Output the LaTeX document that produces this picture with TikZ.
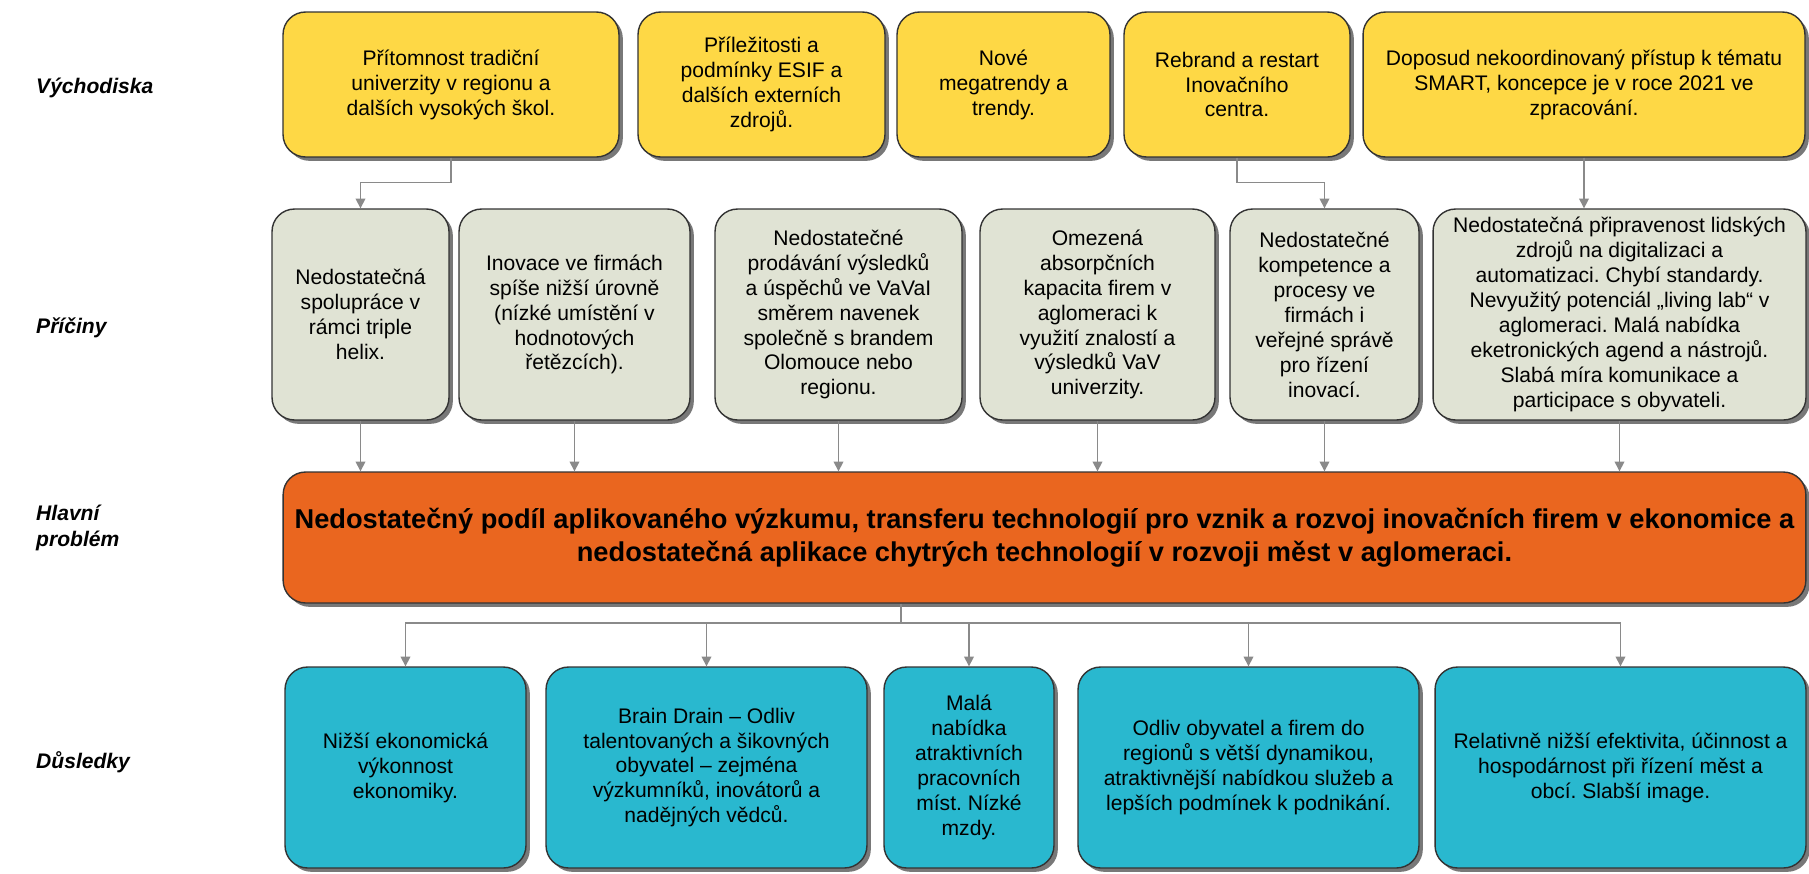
\documentclass[tikz,border=0pt]{standalone}
\usepackage{fontspec}
\setmainfont{Liberation Sans}
\usetikzlibrary{arrows.meta,shadows}
\frenchspacing

\definecolor{zluta}{HTML}{FED845}
\definecolor{seda}{HTML}{E0E3D4}
\definecolor{oranzova}{HTML}{EA661F}
\definecolor{modra}{HTML}{29B8CF}
\definecolor{cara}{HTML}{8A8A8A}

\begin{document}
\begin{tikzpicture}[x=0.02cm, y=-0.02cm,
    box/.style={draw=black!80, line width=0.8pt, rounded corners=0.45cm, align=center,
        inner sep=2pt, font=\fontsize{12}{14.2}\selectfont,
        drop shadow={shadow xshift=2.2pt, shadow yshift=-2.2pt, fill=black!70, opacity=0.75}},
    vychodisko/.style={box, fill=zluta, minimum height=2.9cm},
    pricina/.style={box, fill=seda, minimum height=4.22cm},
    problem/.style={box, fill=oranzova, minimum height=2.62cm,
        font=\bfseries\fontsize{15.5}{18.5}\selectfont},
    dusledek/.style={box, fill=modra, minimum height=4.02cm},
    popisek/.style={anchor=west, align=left, font=\bfseries\itshape\fontsize{12}{14.4}\selectfont},
    spoj/.style={draw=cara, line width=0.8pt, -{Triangle[width=5.5pt,length=5.5pt]}}]

    % 定义参数
    % x=0.02cm, y=-0.02cm: 1 单位 = 参考图的 1 像素 (y 向下)
    % 画布: 1809 x 873 像素
    \useasboundingbox (0,0) rectangle (1809,873);
    \fill[white] (0,0) rectangle (1809,873);

    % 左侧行标题
    \node[popisek] (lblvych) at (30,88) {Východiska};
    \node[popisek] (lblpric) at (30,328) {Příčiny};
    \node[popisek] (lblprob) at (30,528) {Hlavní\\problém};
    \node[popisek] (lbldus) at (30,762) {Důsledky};

    % 第一行: 黄色
    \node[vychodisko, minimum width=6.72cm] (vych1) at (451,84.5)
        {Přítomnost tradiční\\univerzity v regionu a\\dalších vysokých škol.};
    \node[vychodisko, minimum width=4.94cm] (vych2) at (761.5,84.5)
        {Příležitosti a\\podmínky ESIF a\\dalších externích\\zdrojů.};
    \node[vychodisko, minimum width=4.26cm] (vych3) at (1003.5,84.5)
        {Nové\\megatrendy a\\trendy.};
    \node[vychodisko, minimum width=4.52cm] (vych4) at (1237,84.5)
        {Rebrand a restart\\Inovačního\\centra.};
    \node[vychodisko, minimum width=8.84cm] (vych5) at (1584,84.5)
        {Doposud nekoordinovaný přístup k tématu\\SMART, koncepce je v roce 2021 ve\\zpracování.};

    % 第二行: 灰色
    \node[pricina, minimum width=3.54cm] (pric1) at (360.5,314.5)
        {Nedostatečná\\spolupráce v\\rámci triple\\helix.};
    \node[pricina, minimum width=4.62cm] (pric2) at (574.5,314.5)
        {Inovace ve firmách\\spíše nižší úrovně\\(nízké umístění v\\hodnotových\\řetězcích).};
    \node[pricina, minimum width=4.94cm] (pric3) at (838.5,314.5)
        {Nedostatečné\\prodávání výsledků\\a úspěchů ve VaVaI\\směrem navenek\\společně s brandem\\Olomouce nebo\\regionu.};
    \node[pricina, minimum width=4.7cm] (pric4) at (1097.5,314.5)
        {Omezená\\absorpčních\\kapacita firem v\\aglomeraci k\\využití znalostí a\\výsledků VaV\\univerzity.};
    \node[pricina, minimum width=3.78cm] (pric5) at (1324.5,314.5)
        {Nedostatečné\\kompetence a\\procesy ve\\firmách i\\veřejné správě\\pro řízení\\inovací.};
    \node[pricina, minimum width=7.46cm] (pric6) at (1619.5,314.5)
        {Nedostatečná připravenost lidských\\zdrojů na digitalizaci a\\automatizaci. Chybí standardy.\\Nevyužitý potenciál „living lab“ v\\aglomeraci. Malá nabídka\\eketronických agend a nástrojů.\\Slabá míra komunikace a\\participace s obyvateli.};

    % 第三行: 橙色
    \node[problem, minimum width=30.46cm] (prob) at (1044.5,537.5)
        {Nedostatečný podíl aplikovaného výzkumu, transferu technologií pro vznik a rozvoj inovačních firem v ekonomice a\\nedostatečná aplikace chytrých technologií v rozvoji měst v aglomeraci.};

    % 第四行: 蓝色
    \node[dusledek, minimum width=4.82cm] (dus1) at (405.5,767.5)
        {Nižší ekonomická\\výkonnost\\ekonomiky.};
    \node[dusledek, minimum width=6.42cm] (dus2) at (706.5,767.5)
        {Brain Drain – Odliv\\talentovaných a šikovných\\obyvatel – zejména\\výzkumníků, inovátorů a\\nadějných vědců.};
    \node[dusledek, minimum width=3.4cm] (dus3) at (969,767.5)
        {Malá\\nabídka\\atraktivních\\pracovních\\míst. Nízké\\mzdy.};
    \node[dusledek, minimum width=6.82cm] (dus4) at (1248.5,767.5)
        {Odliv obyvatel a firem do\\regionů s větší dynamikou,\\atraktivnější nabídkou služeb a\\lepších podmínek k podnikání.};
    \node[dusledek, minimum width=7.42cm] (dus5) at (1620.5,767.5)
        {Relativně nižší efektivita, účinnost a\\hospodárnost při řízení měst a\\obcí. Slabší image.};

    % 连线
    \draw[spoj] (vych1.south) -- ++(0,25) -| (pric1.north);
    \draw[spoj] (vych4.south) -- ++(0,25) -| (pric5.north);
    \draw[spoj] (vych5.south) -- (vych5.south |- pric6.north);

    \foreach \p in {pric1,pric2,pric3,pric4,pric5,pric6}
        \draw[spoj] (\p.south) -- (\p.south |- prob.north);

    \coordinate (uzel) at (901,623);
    \draw[spoj, -] (prob.south -| uzel) -- (uzel);
    \foreach \d in {dus1,dus2,dus3,dus4,dus5}
        \draw[spoj] (uzel) -| (\d.north);
\end{tikzpicture}
\end{document}
